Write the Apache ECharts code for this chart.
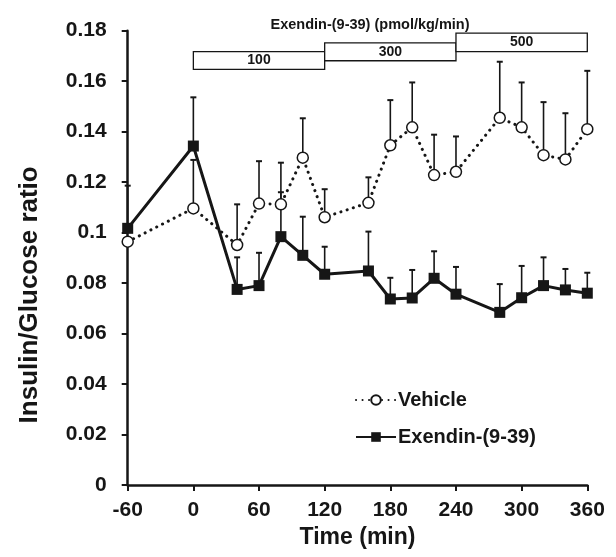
<!DOCTYPE html>
<html><head><meta charset="utf-8">
<script src="https://cdn.jsdelivr.net/npm/echarts@6/dist/echarts.min.js"></script>
<style>html,body{margin:0;padding:0;background:#fff}#c{width:616px;height:557px}</style>
</head><body><div id="c"></div>
<script>
// ---- data ----
const times = [-60, 0, 40, 60, 80, 100, 120, 160, 180, 200, 220, 240, 280, 300, 320, 340, 360];
const vehicle    = [0.0964, 0.1096, 0.0951, 0.1115, 0.1112, 0.1297, 0.1061, 0.1118, 0.1346, 0.1417, 0.1228, 0.1241, 0.1455, 0.1417, 0.1307, 0.1290, 0.1410];
const vehicleSEM = [0, 0.0192, 0.0161, 0.0168, 0.0165, 0.0156, 0.0111, 0.0101, 0.0179, 0.0178, 0.0160, 0.0140, 0.0222, 0.0178, 0.0210, 0.0183, 0.0231];
const exendin    = [0.1017, 0.1343, 0.0775, 0.0790, 0.0984, 0.0910, 0.0835, 0.0848, 0.0737, 0.0741, 0.0819, 0.0756, 0.0684, 0.0742, 0.0790, 0.0773, 0.0760];
const exendinSEM = [0.0169, 0.0193, 0.0127, 0.0130, 0.0176, 0.0153, 0.0109, 0.0156, 0.0084, 0.0111, 0.0107, 0.0108, 0.0112, 0.0126, 0.0112, 0.0083, 0.0081];
const xTicks = [-60, 0, 60, 120, 180, 240, 300, 360];
const yTicks = [0, 0.02, 0.04, 0.06, 0.08, 0.1, 0.12, 0.14, 0.16, 0.18];
const doseLabels = ['100', '300', '500'];
const doseStart  = [0, 120, 240];
const doseEnd    = [120, 240, 360];
const doseLow    = [0.1647, 0.1681, 0.1717];
const doseHigh   = [0.1717, 0.1752, 0.1790];
const seriesNames = ['Vehicle', 'Exendin-(9-39)'];
const doseTitle = 'Exendin-(9-39) (pmol/kg/min)';
const xName = 'Time (min)';
const yName = 'Insulin/Glucose ratio';

// ---- chart ----
const FONT = 'Liberation Sans, Arial, Helvetica, sans-serif';
const INK = '#161616';
const chart = echarts.init(document.getElementById('c'), null, {renderer: 'canvas'});

function errRender(params, api) {
  const x = api.value(0), m = api.value(1), t = api.value(2);
  if (!(t > m)) return null;
  const p0 = api.coord([x, m]), p1 = api.coord([x, t]);
  const hw = 3;
  return {type: 'group', children: [
    {type: 'line', shape: {x1: p0[0], y1: p0[1], x2: p1[0], y2: p1[1]}, style: {stroke: INK, lineWidth: 1.6}},
    {type: 'line', shape: {x1: p1[0] - hw, y1: p1[1], x2: p1[0] + hw, y2: p1[1]}, style: {stroke: INK, lineWidth: 2}}
  ]};
}
function doseRender(params, api) {
  const a = api.coord([api.value(0), api.value(3)]);
  const b = api.coord([api.value(1), api.value(2)]);
  return {
    type: 'rect',
    shape: {x: a[0], y: a[1], width: b[0] - a[0], height: b[1] - a[1]},
    style: {fill: '#fff', stroke: INK, lineWidth: 1.3},
    textContent: {style: {text: doseLabels[params.dataIndex], font: 'bold 14px ' + FONT, fill: INK}},
    textConfig: {position: 'inside'}
  };
}

const yMin = yTicks[0], yMax = yTicks[yTicks.length - 1];
const yStep = +(yTicks[1] - yTicks[0]).toFixed(4);
const xMin = xTicks[0], xMax = xTicks[xTicks.length - 1];
const xStep = xTicks[1] - xTicks[0];

chart.setOption({
  animation: false,
  backgroundColor: '#fff',
  title: {
    text: doseTitle, left: 365, top: 12, textAlign: 'center',
    textStyle: {fontFamily: FONT, fontWeight: 'bold', fontSize: 14.5, color: INK}
  },
  grid: {left: 127.7, right: 28.7, top: 30.7, bottom: 72, containLabel: false, outerBoundsMode: 'none'},
  legend: {
    orient: 'vertical', left: 350, top: 385, itemWidth: 40, itemHeight: 12, itemGap: 17,
    data: seriesNames,
    textStyle: {fontFamily: FONT, fontWeight: 'bold', fontSize: 20, color: INK, lineHeight: 20, padding: [0, 0, 0, -3]}
  },
  xAxis: {
    type: 'value', min: xMin, max: xMax, interval: xStep,
    name: xName, nameLocation: 'middle', nameGap: 41,
    nameTextStyle: {fontFamily: FONT, fontWeight: 'bold', fontSize: 23, color: INK},
    axisLine: {onZero: false, lineStyle: {color: INK, width: 2.5}},
    axisTick: {show: true, length: 6, inside: false, lineStyle: {color: INK, width: 2}},
    axisLabel: {margin: 15, fontFamily: FONT, fontWeight: 'bold', fontSize: 21, color: INK},
    splitLine: {show: false}
  },
  yAxis: {
    type: 'value', min: yMin, max: yMax, interval: yStep,
    name: yName, nameLocation: 'middle', nameGap: 85,
    nameTextStyle: {fontFamily: FONT, fontWeight: 'bold', fontSize: 26, color: INK, padding: [0, 74, 0, 0]},
    axisLine: {show: true, onZero: false, lineStyle: {color: INK, width: 2.5}},
    axisTick: {show: true, length: 6, inside: false, lineStyle: {color: INK, width: 2}},
    axisLabel: {margin: 21, fontFamily: FONT, fontWeight: 'bold', fontSize: 21, color: INK,
      formatter: v => String(+v.toFixed(2))},
    splitLine: {show: false}
  },
  series: [
    {
      type: 'custom', name: 'dose', renderItem: doseRender, z: 1, silent: true,
      encode: {x: [0, 1], y: [2, 3]},
      data: doseLabels.map((l, i) => [doseStart[i], doseEnd[i], doseLow[i], doseHigh[i]])
    },
    {
      type: 'custom', name: 'vehErr', renderItem: errRender, z: 2, silent: true,
      encode: {x: 0, y: [1, 2]},
      data: times.map((t, i) => [t, vehicle[i], vehicle[i] + vehicleSEM[i]])
    },
    {
      type: 'custom', name: 'exErr', renderItem: errRender, z: 2, silent: true,
      encode: {x: 0, y: [1, 2]},
      data: times.map((t, i) => [t, exendin[i], exendin[i] + exendinSEM[i]])
    },
    {
      type: 'line', name: seriesNames[0], z: 3,
      data: times.map((t, i) => [t, vehicle[i]]),
      symbol: 'circle', symbolSize: 11,
      itemStyle: {color: '#fff', borderColor: INK, borderWidth: 1.5},
      lineStyle: {color: INK, width: 3, type: [0.1, 6.4], cap: 'round'}
    },
    {
      type: 'line', name: seriesNames[1], z: 4,
      data: times.map((t, i) => [t, exendin[i]]),
      symbol: 'rect', symbolSize: 11,
      itemStyle: {color: INK, borderColor: INK, borderWidth: 0},
      lineStyle: {color: INK, width: 3, type: 'solid'}
    }
  ]
});
</script>
</body></html>
